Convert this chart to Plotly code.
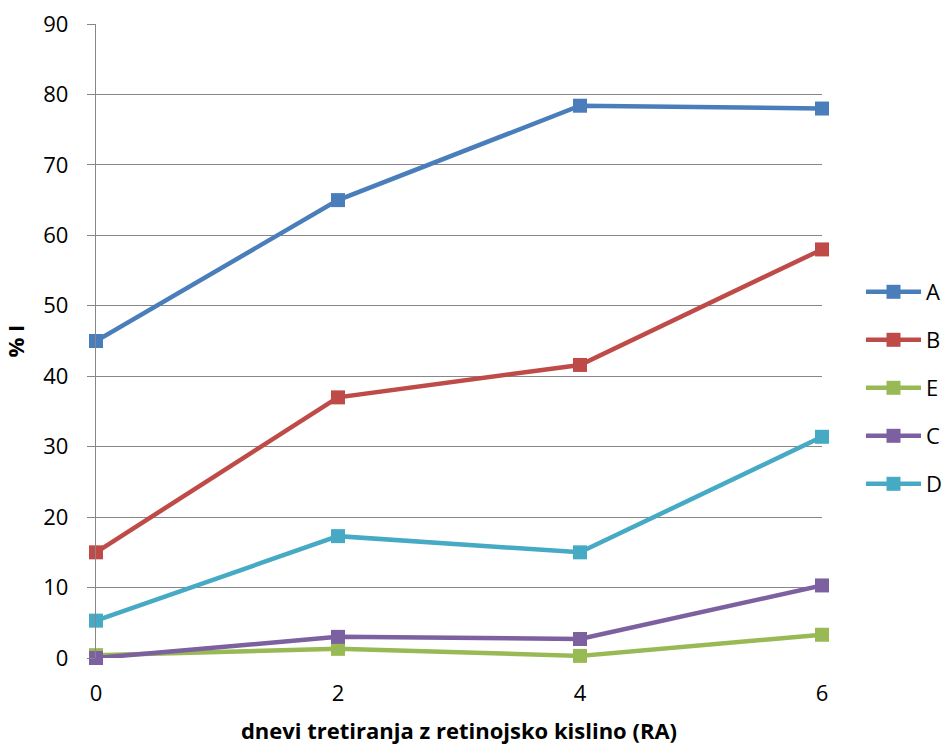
import plotly.graph_objects as go

# Days of retinoic acid treatment
days = [0, 2, 4, 6]

# % I per group
series_names = ["A", "B", "E", "C", "D"]
vals_A = [45.0, 65.0, 78.4, 78.0]
vals_B = [15.0, 37.0, 41.6, 58.0]
vals_E = [0.4, 1.3, 0.3, 3.3]
vals_C = [0.0, 3.0, 2.7, 10.3]
vals_D = [5.3, 17.3, 15.0, 31.4]

y_ticks = [0, 10, 20, 30, 40, 50, 60, 70, 80, 90]
x_ticks = [0, 2, 4, 6]

series_vals = [vals_A, vals_B, vals_E, vals_C, vals_D]
colors = ["#4A7EBB", "#BE4B48", "#98B954", "#7D60A0", "#46AAC5"]

FONT = "Open Sans"
FS = 22
fig = go.Figure()

legend_ids = ["legend", "legend2", "legend3", "legend4", "legend5"]
for name, vals, col, lid in zip(series_names, series_vals, colors, legend_ids):
    fig.add_trace(go.Scatter(
        x=days, y=vals, name=name, mode="lines+markers",
        line=dict(color=col, width=4.5),
        marker=dict(symbol="square", size=14, color=col),
        legend=lid, cliponaxis=False,
    ))

# one legend box per series so the entries keep an even, wide spacing
layout_legends = {}
top_px = 292
gap_px = 48
for i, lid in enumerate(legend_ids):
    layout_legends[lid] = dict(
        xref="container", yref="container",
        x=861 / 944, y=1 - (top_px + i * gap_px) / 746,
        xanchor="left", yanchor="middle",
        font=dict(family=FONT, size=FS, color="#000000"),
        bgcolor="rgba(0,0,0,0)", borderwidth=0,
        itemwidth=55,
    )

fig.update_layout(
    width=944, height=746,
    margin=dict(l=96, r=122, t=24, b=88, autoexpand=False),
    paper_bgcolor="white", plot_bgcolor="white",
    font=dict(family=FONT, size=FS, color="#000000"),
    showlegend=True,
    **layout_legends,
)

fig.update_xaxes(
    range=[0, 6], tickvals=x_ticks, ticktext=[str(v) for v in x_ticks],
    showgrid=False, zeroline=False, showline=False, ticks="",
    ticklabelstandoff=20,
    title=dict(text="<b>dnevi tretiranja z retinojsko kislino (RA)</b>",
               font=dict(family=FONT, size=FS), standoff=17),
)
fig.update_yaxes(
    range=[0, 90], tickvals=y_ticks, ticktext=[str(v) for v in y_ticks],
    showgrid=True, gridcolor="#878787", gridwidth=1.3,
    zeroline=False, showline=True, linecolor="#878787", linewidth=1.3,
    ticks="outside", ticklen=8, tickcolor="#878787", tickwidth=1.3,
    ticklabelstandoff=14,
    title=dict(text="<b>% I</b>", font=dict(family=FONT, size=FS), standoff=16),
)

fig.write_html("out.html")
